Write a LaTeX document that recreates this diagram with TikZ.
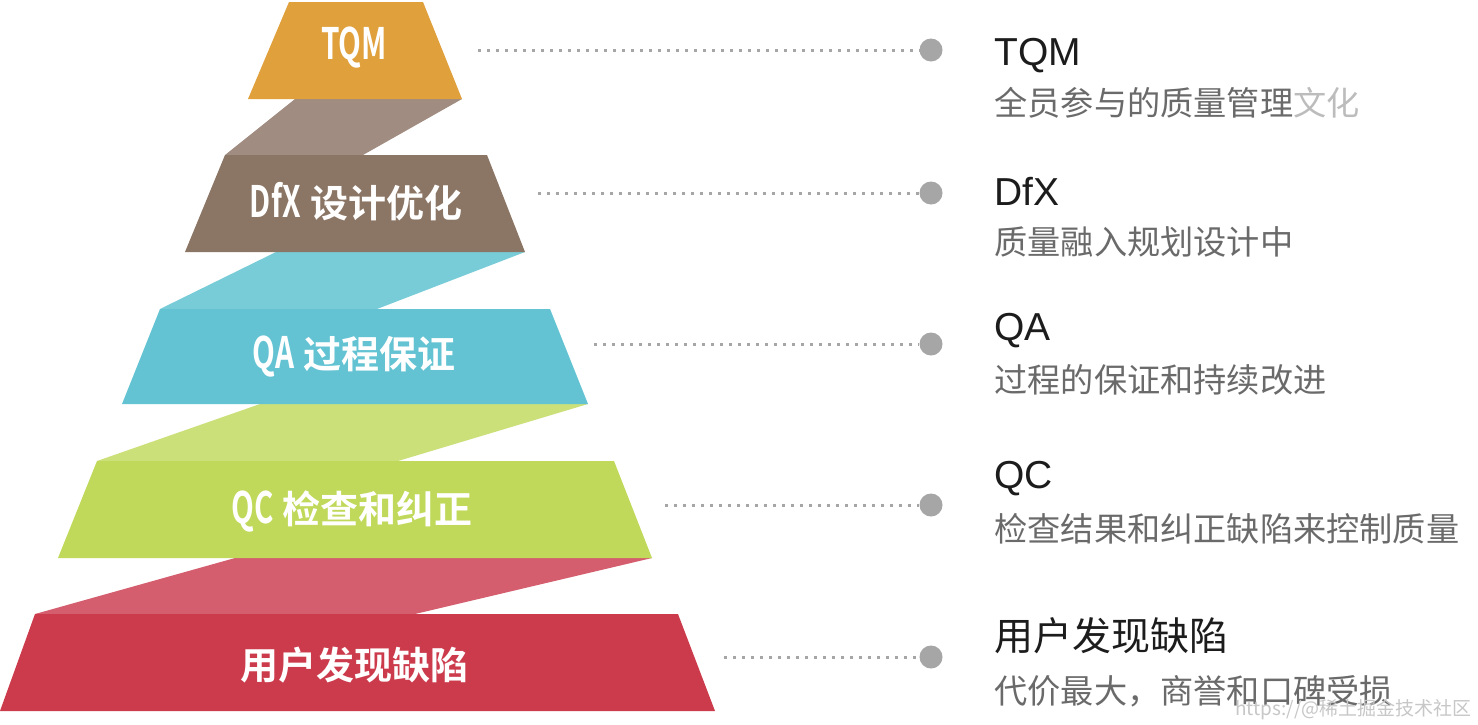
\documentclass[tikz,border=0pt]{standalone}
\usepackage{fontspec}
\usepackage{graphicx}
\setmainfont{Liberation Sans}
\newfontfamily\cjk{Noto Sans CJK SC}
\newfontfamily\cjkb{Noto Sans CJK SC}[BoldFont={* Bold}]
\newcommand{\cnd}[1]{\scalebox{0.78}[1.14]{#1}}
\definecolor{cTQM}{HTML}{E0A03C}
\definecolor{bDfX}{HTML}{A08C80}
\definecolor{cDfX}{HTML}{8B7564}
\definecolor{bQA}{HTML}{78CCD8}
\definecolor{cQA}{HTML}{63C3D3}
\definecolor{bQC}{HTML}{CCE07A}
\definecolor{cQC}{HTML}{C0D95A}
\definecolor{bUS}{HTML}{D45D6E}
\definecolor{cUS}{HTML}{CC3B4C}
\definecolor{dotgray}{HTML}{A6A6A6}
\definecolor{headc}{HTML}{1C1C1C}
\definecolor{subc}{HTML}{6A6A6A}
\tikzset{
  lvl/.style={text=white, inner sep=0pt, font=\cjkb\bfseries\fontsize{19pt}{22pt}\selectfont},
  dotnode/.style={circle, fill=dotgray, minimum size=11.5pt, inner sep=0pt},
  dotline/.style={dotgray, line width=1.5pt, dash pattern=on 1.5pt off 3pt},
  head/.style={anchor=west, inner sep=0pt, text=headc, font=\fontsize{19.5pt}{22pt}\selectfont},
  headcn/.style={anchor=west, inner sep=0pt, text=headc, font=\cjk\fontsize{19.5pt}{22pt}\selectfont},
  sub/.style={anchor=west, inner sep=0pt, text=subc, font=\cjk\fontsize{16.6pt}{20pt}\selectfont},
}
\begin{document}
\begin{tikzpicture}[x=0.5pt,y=-0.5pt]
\useasboundingbox (0,0) rectangle (1478,724);
\fill[white] (0,0) rectangle (1478,724);
% bands
\fill[bDfX] (295,99) -- (462,99) -- (363,155) -- (225,155) -- cycle;
\fill[bQA] (276,252) -- (525,252) -- (377,309) -- (160,309) -- cycle;
\fill[bQC] (260,404) -- (588,404) -- (398,461) -- (97,461) -- cycle;
\fill[bUS] (235,558) -- (652,558) -- (415,614) -- (35,614) -- cycle;
% trapezoids
\fill[cTQM] (289,2) -- (423,2) -- (462,99) -- (248,99) -- cycle;
\fill[cDfX] (225,155) -- (487,155) -- (525,252) -- (185,252) -- cycle;
\fill[cQA] (160,309) -- (550,309) -- (588,404) -- (122,404) -- cycle;
\fill[cQC] (97,461) -- (614,461) -- (652,558) -- (58,558) -- cycle;
\fill[cUS] (35,614) -- (678,614) -- (715,711) -- (0,711) -- cycle;
% labels
\node[lvl] (t1) at (354,48) {\cnd{TQM}};
\node[lvl] (t2) at (356,202) {\cnd{DfX} 设计优化};
\node[lvl] (t3) at (354,357) {\cnd{QA} 过程保证};
\node[lvl] (t4) at (352,511) {\cnd{QC} 检查和纠正};
\node[lvl] (t5) at (354,665) {用户发现缺陷};
% dots
\node[dotnode] (d1) at (931,50) {};
\node[dotnode] (d2) at (931,193) {};
\node[dotnode] (d3) at (931,344) {};
\node[dotnode] (d4) at (931,505) {};
\node[dotnode] (d5) at (931,657) {};
\coordinate (s1) at (478,50);
\coordinate (s2) at (538,193);
\coordinate (s3) at (594,344);
\coordinate (s4) at (665,505);
\coordinate (s5) at (724,657);
\draw[dotline] (s1) -- (d1.west);
\draw[dotline] (s2) -- (d2.west);
\draw[dotline] (s3) -- (d3.west);
\draw[dotline] (s4) -- (d4.west);
\draw[dotline] (s5) -- (d5.west);
% right texts
\node[head] (h1) at (994,56) {TQM};
\node[sub] (u1) at (994,103) {全员参与的质量管理{\color{subc!45}文化}};
\node[head] (h2) at (994,191) {DfX};
\node[sub] (u2) at (994,242) {质量融入规划设计中};
\node[head] (h3) at (994,331) {QA};
\node[sub] (u3) at (994,380) {过程的保证和持续改进};
\node[head] (h4) at (994,479) {QC};
\node[sub] (u4) at (994,529) {检查结果和纠正缺陷来控制质量};
\node[headcn] (h5) at (994,636) {用户发现缺陷};
\node[sub] (u5) at (994,691) {代价最大，商誉和口碑受损};
\node[anchor=east, inner sep=0pt, text=black!22, font=\cjk\fontsize{9.5pt}{11pt}\selectfont] (wm) at (1472,710) {https://@稀土掘金技术社区};
\end{tikzpicture}
\end{document}
